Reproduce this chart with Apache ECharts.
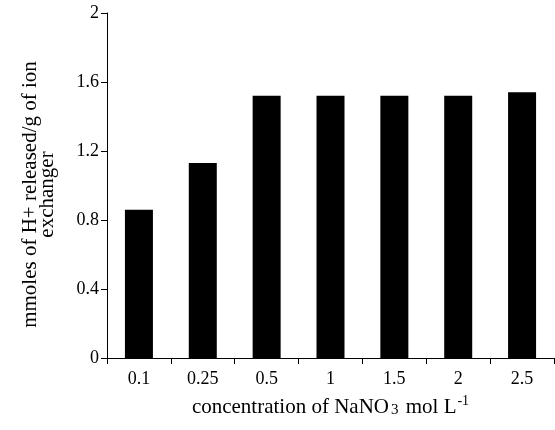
<!DOCTYPE html>
<html>
<head>
<meta charset="utf-8">
<script src="https://cdn.jsdelivr.net/npm/echarts@6/dist/echarts.min.js"></script>
<style>
  html, body { margin: 0; padding: 0; background: #fff; }
  #chart { width: 555px; height: 430px; }
</style>
</head>
<body>
<div id="chart"></div>
<script>
// NaNO3 concentration (mol/L) vs H+ released
const concentrations = ["0.1", "0.25", "0.5", "1", "1.5", "2", "2.5"];
const hReleased = [0.86, 1.13, 1.52, 1.52, 1.52, 1.52, 1.54];
const yTicks = { min: 0, max: 2, interval: 0.4 };

const font = "Liberation Serif";
const axisLine = { lineStyle: { color: "#000", width: 1 } };

const chart = echarts.init(document.getElementById("chart"));

chart.setOption({
  animation: false,
  grid: { left: 107, right: 1, top: 13, bottom: 72 },
  xAxis: {
    type: "category",
    data: concentrations,
    axisLine,
    axisTick: { show: true, length: 6, lineStyle: { color: "#000" } },
    axisLabel: { color: "#000", fontFamily: font, fontSize: 18, margin: 12 },
    name: "{t|concentration of NaNO}{sub|3}{t| mol L}{sup|-1}",
    nameLocation: "middle",
    nameGap: 36,
    nameTextStyle: {
      rich: {
        t: { fontFamily: font, fontSize: 21, color: "#000", verticalAlign: "bottom" },
        sub: { fontFamily: font, fontSize: 15, color: "#000", verticalAlign: "bottom", padding: [0, 2, 0, 2] },
        sup: { fontFamily: font, fontSize: 14, color: "#000", verticalAlign: "top", padding: [0, 0, 10, 1] },
      },
    },
  },
  yAxis: {
    type: "value",
    min: yTicks.min,
    max: yTicks.max,
    interval: yTicks.interval,
    axisLine: { show: true, ...axisLine },
    axisTick: { show: true, length: 6, lineStyle: { color: "#000" } },
    splitLine: { show: false },
    axisLabel: { color: "#000", fontFamily: font, fontSize: 18, margin: 8 },
    name: "mmoles of H+ released/g of ion\nexchanger",
    nameLocation: "middle",
    nameGap: 51,
    nameTextStyle: {
      color: "#000",
      fontFamily: font,
      fontSize: 21,
      lineHeight: 17,
      padding: [0, 18, 0, 0],
    },
  },
  series: [
    {
      type: "bar",
      data: hReleased,
      barWidth: 28,
      itemStyle: { color: "#000" },
    },
  ],
});
</script>
</body>
</html>
